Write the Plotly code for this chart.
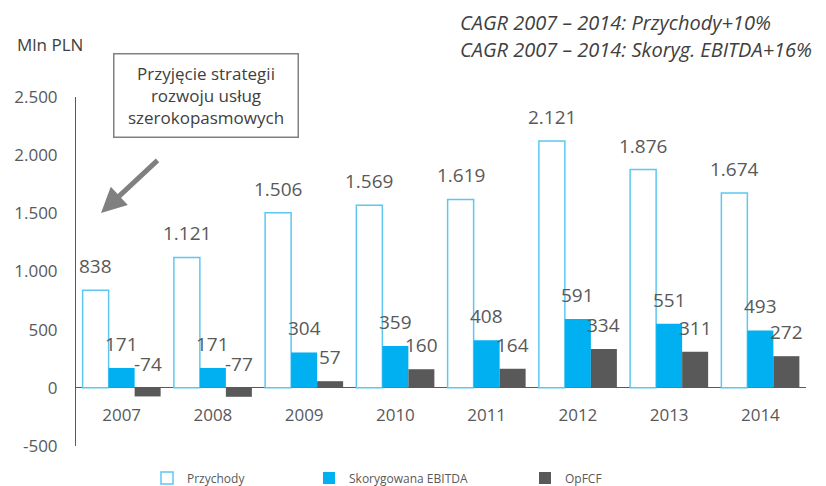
import plotly.graph_objects as go

years = ["2007", "2008", "2009", "2010", "2011", "2012", "2013", "2014"]
przychody = [838, 1121, 1506, 1569, 1619, 2121, 1876, 1674]
ebitda = [171, 171, 304, 359, 408, 591, 551, 493]
opfcf = [-74, -77, 57, 160, 164, 334, 311, 272]
series_names = ["Przychody", "Skorygowana EBITDA", "OpFCF"]
y_ticks = [-500, 0, 500, 1000, 1500, 2000, 2500]
y_tick_labels = ["-500", "0", "500", "1.000", "1.500", "2.000", "2.500"]
y_min, y_max = -500, 2500

GRAY = "#595959"
BLUE = "#00B0F0"
OUTLINE = "#5CC8F2"
FONT = "Open Sans"

# page offsets (body margin of the html page)
OFF = 8
SW, SH = 826, 486                 # screen size
W, H = SW - OFF, SH - OFF         # figure size
# plot area in screen pixels
P_L, P_R, P_T, P_B = 76, 806, 97, 446
ml, mt = P_L - OFF, P_T - OFF
pw, ph = P_R - P_L, P_B - P_T
mr, mb = W - ml - pw, H - mt - ph

def px_x(p):
    return (p - P_L) / pw

def px_y(p):
    return (P_B - p) / ph

def fmt(v):
    return f"{v:,}".replace(",", ".")

fig = go.Figure()
fig.add_trace(go.Bar(x=years, y=przychody, name=series_names[0], showlegend=True,
                     marker=dict(color="white", line=dict(color=OUTLINE, width=1.5)),
                     legend="legend"))
fig.add_trace(go.Bar(x=years, y=ebitda, name=series_names[1], showlegend=True,
                     marker=dict(color=BLUE, line=dict(width=0)),
                     legend="legend2"))
fig.add_trace(go.Bar(x=years, y=opfcf, name=series_names[2], showlegend=True,
                     marker=dict(color=GRAY, line=dict(width=0)),
                     legend="legend3"))

bargap = 0.145
cat_w = pw / len(years)
bar_w = cat_w * (1 - bargap) / 3

annotations = []
for si, vals in enumerate([przychody, ebitda, opfcf]):
    for i, v in enumerate(vals):
        annotations.append(dict(
            x=i, y=max(v, 0), xref="x", yref="y", text=fmt(v), showarrow=False,
            xanchor="center", yanchor="bottom", xshift=(si - 1) * bar_w, yshift=9,
            font=dict(family=FONT, size=19, color=GRAY)))

annotations.append(dict(x=px_x(50), y=px_y(44), xref="paper", yref="paper",
                        text="Mln PLN", showarrow=False, xanchor="center", yanchor="middle",
                        font=dict(family=FONT, size=17, color="#404040")))
for txt, yy in [("CAGR 2007 – 2014: Przychody+10%", 22),
                ("CAGR 2007 – 2014: Skoryg. EBITDA+16%", 49)]:
    annotations.append(dict(x=px_x(459), y=px_y(yy), xref="paper", yref="paper",
                            text=txt, showarrow=False, borderpad=0,
                            xanchor="left", yanchor="middle",
                            font=dict(family=FONT, size=20, color="#404040", style="italic")))
annotations.append(dict(x=px_x(205.5), y=px_y(95), xref="paper", yref="paper",
                        text="Przyjęcie strategii<br>rozwoju usług<br>szerokopasmowych",
                        showarrow=False, xanchor="center", yanchor="middle",
                        width=171, height=70, borderpad=6, bordercolor="#808080",
                        borderwidth=1.5, bgcolor="white", align="center",
                        font=dict(family=FONT, size=17, color="#404040")))
annotations.append(dict(x=px_x(101), y=px_y(213), xref="paper", yref="paper",
                        ax=58, ay=-54, text="", showarrow=True, arrowhead=2,
                        arrowsize=1, arrowwidth=5, arrowcolor="#808080"))

legend_common = dict(yanchor="middle", xanchor="left", orientation="h",
                     xref="container", yref="container",
                     font=dict(family=FONT, size=12, color=GRAY), itemwidth=30,
                     bgcolor="rgba(0,0,0,0)")
LEG_Y = 1 - (478 - OFF) / H

fig.update_layout(
    width=W, height=H,
    margin=dict(l=ml, r=mr, t=mt, b=mb, autoexpand=False),
    paper_bgcolor="white", plot_bgcolor="white",
    barmode="group", bargap=bargap, bargroupgap=0,
    separators=",.",
    showlegend=True,
    font=dict(family=FONT, color=GRAY),
    xaxis=dict(type="category", range=[-0.5, len(years) - 0.5],
               anchor="free", position=(0 - y_min) / (y_max - y_min),
               showline=False, showgrid=False, zeroline=False,
               ticks="outside", ticklen=12, tickcolor="rgba(0,0,0,0)",
               tickfont=dict(family=FONT, size=17, color=GRAY)),
    yaxis=dict(range=[y_min, y_max], tickvals=y_ticks, ticktext=y_tick_labels,
               showline=True, linecolor=GRAY, linewidth=1,
               showgrid=False, zeroline=True, zerolinecolor=GRAY, zerolinewidth=1,
               ticks="outside", ticklen=14, tickcolor="rgba(0,0,0,0)",
               tickfont=dict(family=FONT, size=17, color=GRAY)),
    annotations=annotations,
    legend=dict(x=(147 - OFF) / W, y=LEG_Y, **legend_common),
    legend2=dict(x=(309 - OFF) / W, y=LEG_Y, **legend_common),
    legend3=dict(x=(525 - OFF) / W, y=LEG_Y, **legend_common),
)

fig.write_html("out.html")
